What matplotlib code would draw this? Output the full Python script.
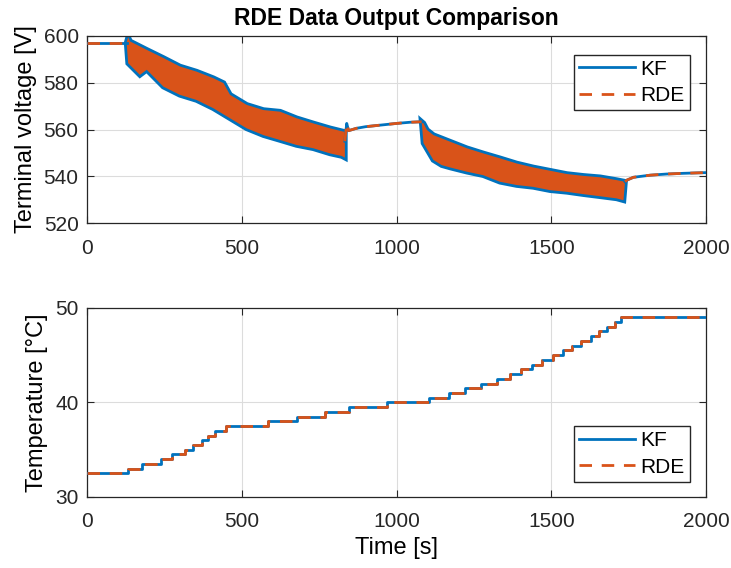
import numpy as np
import matplotlib
matplotlib.use('Agg')
import matplotlib.pyplot as plt

plt.rcParams['font.family'] = ['Liberation Sans', 'DejaVu Sans']

# terminal voltage: rest periods (thin lines) and driving periods (dense oscillation band)
rest1_t = [0, 128]
rest1_v = [597.0, 597.0]
rest2_t = [833, 839, 845, 870, 900, 950, 1000, 1044, 1081]
rest2_v = [555.0, 562.6, 559.5, 560.5, 561.2, 561.9, 562.6, 563.1, 563.3]
rest3_t = [1738, 1744, 1765, 1819, 1873, 1927, 2000]
rest3_v = [537.7, 538.4, 539.6, 540.5, 541.0, 541.3, 541.6]

band1_up_t = [128, 133, 139, 193, 247, 300, 354, 408, 441, 462, 516, 570, 624, 677, 731, 785, 828, 833]
band1_up_v = [597.0, 599.4, 597.6, 594.0, 590.5, 586.9, 584.7, 581.9, 579.8, 574.8, 570.5, 568.3,
              567.6, 564.8, 562.6, 560.5, 559.1, 559.0]
band1_lo_t = [128, 133, 171, 193, 247, 300, 354, 408, 462, 516, 570, 624, 677, 731, 785, 823, 833]
band1_lo_v = [597.0, 588.3, 583.3, 585.5, 578.3, 574.8, 572.6, 569.1, 564.8, 560.5, 557.6, 555.5,
              553.4, 552.0, 549.8, 548.7, 548.0]

band2_up_t = [1081, 1087, 1098, 1119, 1173, 1227, 1280, 1334, 1388, 1442, 1496, 1550, 1604, 1658, 1711, 1738]
band2_up_v = [563.3, 562.6, 559.8, 557.6, 554.8, 552.0, 549.8, 547.7, 545.5, 543.8, 542.4, 541.0,
              540.2, 539.6, 538.4, 537.7]
band2_lo_t = [1081, 1087, 1119, 1146, 1173, 1227, 1280, 1334, 1388, 1442, 1496, 1550, 1604, 1658, 1711, 1733, 1738]
band2_lo_v = [563.3, 554.2, 547.0, 544.8, 543.8, 542.0, 540.5, 537.7, 536.3, 535.5, 534.1, 533.4,
              532.4, 531.5, 530.6, 529.8, 537.7]

# temperature step changes (time of step, new level)
temp_step_t = [0, 133, 178, 239, 274, 315, 343, 370, 390, 414, 448, 586, 677, 769, 845, 970,
               1106, 1168, 1221, 1273, 1326, 1367, 1401, 1437, 1471, 1504, 1536, 1566, 1596,
               1627, 1654, 1681, 1704, 1724]
temp_level = [32.5, 33.0, 33.5, 34.0, 34.5, 35.0, 35.5, 36.0, 36.5, 37.0, 37.5, 38.0, 38.5, 39.0,
              39.5, 40.0, 40.5, 41.0, 41.5, 42.0, 42.5, 43.0, 43.5, 44.0, 44.5, 45.0, 45.5, 46.0,
              46.5, 47.0, 47.5, 48.0, 48.5, 49.0]
t_end = 2000

blue = '#0072BD'
orange = '#D95319'
axcol = '#262626'
dash = (0, (4.5, 3.5))

fig = plt.figure(figsize=(7.31, 5.68), dpi=100)
ax1 = fig.add_axes([0.119, 0.607, 0.847, 0.330])
ax2 = fig.add_axes([0.119, 0.125, 0.847, 0.333])

leg_kw = dict(fontsize=15, handlelength=2.7, fancybox=False, edgecolor=axcol, framealpha=1,
              borderpad=0.25, labelspacing=0.35, handletextpad=0.25, borderaxespad=0)

# top plot
for ut, uv, lt, lv in [(band1_up_t, band1_up_v, band1_lo_t, band1_lo_v),
                       (band2_up_t, band2_up_v, band2_lo_t, band2_lo_v)]:
    px = list(ut) + list(lt[::-1])
    py = list(uv) + list(lv[::-1])
    ax1.fill(px, py, facecolor=blue, edgecolor=blue, lw=4, zorder=2)
    ax1.fill(px, py, facecolor=orange, edgecolor='none', zorder=3)

for t, v in [(rest1_t, rest1_v), (rest2_t, rest2_v), (rest3_t, rest3_v)]:
    l1, = ax1.plot(t, v, color=blue, lw=2, zorder=4)
    l2, = ax1.plot(t, v, color=orange, lw=2, ls=dash, zorder=5)
ax1.legend([l1, l2], ['KF', 'RDE'], loc='upper right', bbox_to_anchor=(0.974, 0.9), **leg_kw)

ax1.set_xlim(0, 2000)
ax1.set_ylim(520, 600)
ax1.set_yticks([520, 540, 560, 580, 600])
ax1.set_xticks([0, 500, 1000, 1500, 2000])
ax1.set_ylabel('Terminal voltage [V]', fontsize=17, labelpad=5)
ax1.set_title('RDE Data Output Comparison', fontsize=16.5, fontweight='bold', pad=8)

# bottom plot
tt = list(temp_step_t) + [t_end]
tl = list(temp_level) + [temp_level[-1]]
k1, = ax2.step(tt, tl, where='post', color=blue, lw=2, zorder=3)
k2, = ax2.step(tt, tl, where='post', color=orange, lw=2, ls=dash, zorder=4)
ax2.legend([k1, k2], ['KF', 'RDE'], loc='lower right', bbox_to_anchor=(0.974, 0.08), **leg_kw)
ax2.set_xlim(0, 2000)
ax2.set_ylim(30, 50)
ax2.set_yticks([30, 40, 50])
ax2.set_xticks([0, 500, 1000, 1500, 2000])
ax2.set_ylabel('Temperature [\u00b0C]', fontsize=17, labelpad=5)
ax2.set_xlabel('Time [s]', fontsize=17, labelpad=4)

for ax in (ax1, ax2):
    ax.grid(True, color='#dcdcdc', lw=0.8)
    ax.set_axisbelow(True)
    ax.tick_params(direction='in', top=True, right=True, labelsize=15, color=axcol,
                   labelcolor=axcol, length=5, width=0.8, pad=6)
    ax.tick_params(axis='x', pad=11)
    for s in ax.spines.values():
        s.set_color(axcol)
        s.set_linewidth(0.9)

fig.savefig('out.png', dpi=100)
